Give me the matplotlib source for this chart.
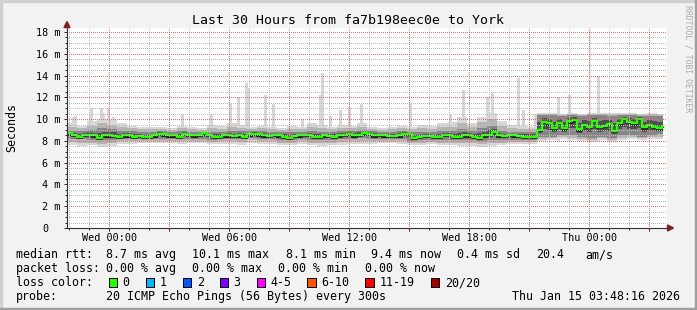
import numpy as np
import matplotlib
matplotlib.use("Agg")
import matplotlib.pyplot as plt
from matplotlib.patches import Rectangle, Polygon
from matplotlib.transforms import ScaledTranslation

W, H = 697, 310

# time axis: hours relative to Wed 00:00
t_start = -2.1
t_end = 27.7

# median rtt (ms), one value every 15 minutes from t_start
median_ms = [
    8.7, 8.55, 8.4, 8.55, 8.55, 8.5, 8.3, 8.5, 8.5, 8.45,
    8.35, 8.5, 8.5, 8.4, 8.45, 8.35, 8.35, 8.5, 8.65, 8.6,
    8.5, 8.5, 8.35, 8.65, 8.55, 8.5, 8.55, 8.7, 8.55, 8.4,
    8.4, 8.5, 8.5, 8.45, 8.5, 8.4, 8.6, 8.65, 8.6, 8.5,
    8.45, 8.55, 8.5, 8.4, 8.25, 8.45, 8.5, 8.55, 8.55, 8.4,
    8.4, 8.5, 8.45, 8.4, 8.5, 8.55, 8.65, 8.5, 8.55, 8.7,
    8.65, 8.5, 8.55, 8.5, 8.45, 8.45, 8.5, 8.65, 8.65, 8.25,
    8.35, 8.45, 8.45, 8.35, 8.35, 8.55, 8.55, 8.35, 8.4, 8.5,
    8.5, 8.4, 8.25, 8.5, 8.55, 8.8, 8.5, 8.45, 8.55, 8.5,
    8.45, 8.4, 8.4, 8.4,
    9.0, 9.75, 9.6, 9.15, 9.65, 9.15, 9.8, 9.9, 9.05, 9.45,
    9.3, 9.85, 9.3, 9.4, 9.55, 8.9, 9.6, 10.05, 9.75, 9.6,
    10.05, 9.25, 9.45, 9.3, 9.15, 9.4,
]

# smoke envelope (ms), one value every 30 minutes from t_start
smoke_hi_out = [
    9.6, 9.4, 9.8, 10.0, 9.9, 9.6, 9.4, 9.3, 9.3, 9.3,
    9.2, 9.4, 9.3, 9.2, 9.5, 9.4, 9.6, 9.5, 9.3, 9.4,
    9.3, 9.2, 9.4, 9.3, 9.6, 9.5, 9.3, 9.5, 9.4, 9.6,
    9.3, 9.2, 9.3, 9.4, 9.3, 9.5, 9.4, 9.6, 9.7, 10.2,
    9.6, 10.2, 10.6, 9.8, 9.5, 9.4, 9.3,
    10.6, 10.6, 10.5, 10.6, 10.5, 10.6, 10.6, 10.6, 10.6, 10.6, 10.5, 10.6, 10.5,
]
smoke_hi_core = [
    8.9, 8.9, 9.0, 9.2, 9.1, 8.9, 8.9, 8.8, 8.8, 8.9,
    8.8, 8.9, 8.8, 8.8, 8.8, 8.8, 8.9, 8.9, 8.9, 8.9,
    8.8, 8.8, 8.8, 8.8, 8.9, 8.8, 8.8, 8.9, 8.9, 9.0,
    8.9, 8.8, 8.8, 8.9, 8.8, 8.8, 8.8, 8.9, 8.9, 9.1,
    8.9, 9.2, 9.4, 8.9, 8.8, 8.8, 8.8,
    10.4, 10.4, 10.3, 10.4, 10.3, 10.4, 10.4, 10.3, 10.4, 10.4, 10.3, 10.3, 10.3,
]
smoke_lo_core = [
    8.2, 8.2, 8.1, 8.1, 8.1, 8.2, 8.2, 8.2, 8.2, 8.2,
    8.2, 8.2, 8.2, 8.2, 8.1, 8.2, 8.2, 8.2, 8.3, 8.2,
    8.2, 8.1, 8.1, 8.2, 8.1, 8.1, 8.1, 8.2, 8.2, 8.3,
    8.2, 8.2, 8.2, 8.2, 8.0, 8.1, 8.1, 8.1, 8.1, 8.1,
    8.1, 8.0, 8.1, 8.1, 8.1, 8.1, 8.1,
    8.4, 8.4, 8.5, 8.5, 8.4, 8.3, 8.4, 8.3, 8.5, 8.5, 8.4, 8.5, 8.6,
]
smoke_lo_out = [
    7.6, 7.5, 7.6, 7.4, 7.5, 7.7, 7.7, 7.8, 7.8, 7.8,
    7.8, 7.7, 7.8, 7.8, 7.7, 7.7, 7.7, 7.6, 7.8, 7.7,
    7.7, 7.6, 7.6, 7.7, 7.6, 7.5, 7.6, 7.6, 7.7, 7.7,
    7.7, 7.8, 7.8, 7.7, 7.6, 7.6, 7.7, 7.6, 7.6, 7.5,
    7.5, 7.4, 7.5, 7.6, 7.7, 7.7, 7.7,
    8.0, 8.1, 8.2, 8.1, 8.0, 7.9, 8.1, 7.9, 8.1, 8.2, 8.1, 8.2, 8.2,
]

# single slow pings sticking out of the smoke
spike_hours = [-1.82, -1.72, -0.97, -0.9, -0.42, -0.3, -0.07, 0.19, 3.63, 5.08,
               6.03, 6.43, 6.83, 6.95, 7.78, 8.18, 9.63, 10.53, 10.63, 11.03,
               11.53, 12.0, 12.58, 15.03, 17.03, 17.68, 18.88, 19.13, 20.43, 20.68,
               21.28, 22.43, 22.98, 24.43]
spike_ms = [10.2, 10.3, 10.5, 11.0, 11.0, 10.6, 11.0, 10.2, 10.5, 10.5,
            11.5, 12.0, 13.3, 12.9, 12.2, 11.4, 10.0, 12.2, 14.2, 10.3,
            10.8, 11.1, 11.4, 11.5, 10.5, 12.7, 12.0, 12.4, 13.8, 10.8,
            10.5, 12.0, 12.2, 14.0]
# one very faint ping near the top
faint_spike_hours = [24.03]
faint_spike_ms = [18.2]

xtick_hours = [0, 3, 6, 9, 12, 15, 18, 21, 24, 27]
xtick_labels = ['Wed 00:00', '', 'Wed 06:00', '', 'Wed 12:00', '', 'Wed 18:00', '', 'Thu 00:00', '']
ytick_ms = [0, 2, 4, 6, 8, 10, 12, 14, 16, 18]
ytick_labels = ['0', '2 m', '4 m', '6 m', '8 m', '10 m', '12 m', '14 m', '16 m', '18 m']

loss_labels = ['0', '1', '2', '3', '4-5', '6-10', '11-19', '20/20']
loss_colors = ['#26ff00', '#00b8ff', '#0059ff', '#7e00ff', '#ff00ff', '#ff5500', '#ff0000', '#a10000']

plt.rcParams['font.family'] = 'DejaVu Sans Mono'


def fx(x):
    return x / W


def fy(y):
    return 1 - y / H


fig = plt.figure(figsize=(W / 100, H / 100), dpi=100, facecolor='#f2f2f2')
ax = fig.add_axes([fx(67), fy(228), 600 / W, 200 / H])
ax.set_facecolor('white')
ax.set_xlim(-2.12, 27.88)
ax.set_ylim(0, 18.37)

# smoke
med = np.array(median_ms)
t = t_start + 0.25 * np.arange(len(med))
tt = np.append(t, t_end)
mm = np.append(med, med[-1])
hi_out = np.repeat(smoke_hi_out, 2)
hi_core = np.repeat(smoke_hi_core, 2)
lo_core = np.repeat(smoke_lo_core, 2)
lo_out = np.repeat(smoke_lo_out, 2)
ext = lambda a: np.append(a, a[-1])

ax.bar(faint_spike_hours, np.array(faint_spike_ms) - 8.0, bottom=8.0, width=0.07,
       color='#e4e4e4', linewidth=0, zorder=1)
ax.bar(spike_hours, np.array(spike_ms) - 8.0, bottom=8.0, width=0.15,
       color='#d6d6d6', linewidth=0, zorder=1)
layers = [
    (lo_out, hi_out, '#d8d8d8'),
    ((lo_out + lo_core) / 2, (hi_out + hi_core) / 2, '#b4b4b4'),
    (lo_core, hi_core, '#868686'),
    ((lo_core + med) / 2, (hi_core + med) / 2, '#4e4e4e'),
]
for lo, hi, c in layers:
    ax.fill_between(tt, ext(lo), ext(hi), step='post', color=c, linewidth=0, zorder=1.2)

ax.step(tt, mm - 0.12, where='post', color='#202020', lw=1.5, zorder=1.5)
ax.step(tt, mm, where='post', color='#26ff00', lw=1.7, zorder=1.6)

# ticks
minor_x = [h for h in range(-2, 28) if h % 3]
minor_y = [v * 0.5 for v in range(1, 37) if v % 4]
ax.set_xticks(xtick_hours)
ax.set_xticklabels(xtick_labels)
ax.set_xticks(minor_x, minor=True)
ax.set_yticks(ytick_ms)
ax.set_yticklabels(ytick_labels)
ax.set_yticks(minor_y, minor=True)
ax.grid(False)

ax.tick_params(which='major', direction='out', length=2.2, width=0.72, color='#303030',
               labelsize=7.3)
ax.tick_params(which='minor', direction='out', length=1.4, width=0.72, color='#303030')
ax.tick_params(axis='x', pad=1.4)
ax.tick_params(axis='y', pad=2.4)
zero = ax.get_yticklabels()[0]
zero.set_transform(zero.get_transform() + ScaledTranslation(-12 / 100, 0, fig.dpi_scale_trans))

for s in ['top', 'right']:
    ax.spines[s].set_visible(False)
for s in ['left', 'bottom']:
    ax.spines[s].set_color('#303030')
    ax.spines[s].set_linewidth(0.8)
    ax.spines[s].set_zorder(3)

# dotted rrdtool grid drawn over the smoke
MAJOR_GRID = '#e07070'
MINOR_GRID = '#bcbcbc'
grid_lines = []
for h in minor_x:
    grid_lines.append(ax.axvline(h, color=MINOR_GRID, lw=0.72, zorder=2.4))
for v in minor_y:
    grid_lines.append(ax.axhline(v, color=MINOR_GRID, lw=0.72, zorder=2.4))
for h in xtick_hours:
    grid_lines.append(ax.axvline(h, color=MAJOR_GRID, lw=0.72, zorder=2.5))
for v in ytick_ms[1:]:
    grid_lines.append(ax.axhline(v, color=MAJOR_GRID, lw=0.72, zorder=2.5))


def set_dash(off):
    for ln in grid_lines:
        ln.set_linestyle((off, (1, 1)))


# pick the dash phase that puts the dots on whole pixels
best_off, best_std = 0.5, -1.0
for off in (0.5, 0.0, 0.25, 0.75):
    set_dash(off)
    fig.canvas.draw()
    buf = np.asarray(fig.canvas.buffer_rgba())[:, :, 0].astype(float)
    strip = buf[33:50, 127:132].min(axis=1)
    if strip.std() > best_std:
        best_off, best_std = off, strip.std()
set_dash(best_off)

# axis arrows
arrow_c = '#801f1f'
fig.patches.append(Polygon([(fx(64), fy(27.5)), (fx(70), fy(27.5)), (fx(67), fy(21.5))],
                           closed=True, color=arrow_c, transform=fig.transFigure))
fig.patches.append(Polygon([(fx(667.5), fy(225)), (fx(667.5), fy(231)), (fx(673.5), fy(228))],
                           closed=True, color=arrow_c, transform=fig.transFigure))

# frame shading
fig.patches.append(Rectangle((0, fy(2)), 1, 2 / H, color='#d0d0d0', transform=fig.transFigure))
fig.patches.append(Rectangle((0, 0), fx(2), 1, color='#d0d0d0', transform=fig.transFigure))
fig.patches.append(Rectangle((0, 0), 1, 2 / H, color='#9e9e9e', transform=fig.transFigure))
fig.patches.append(Rectangle((fx(695), 0), fx(2), 1, color='#9e9e9e', transform=fig.transFigure))

# texts
fig.text(fx(348), fy(24), 'Last 30 Hours from fa7b198eec0e to York', ha='center', va='baseline',
         fontsize=9.5)
fig.text(fx(11.5), fy(128), 'Seconds', rotation=90, ha='center', va='center', fontsize=8.37)
fig.text(fx(688), fy(5), 'RRDTOOL / TOBI OETIKER', rotation=270, ha='center', va='top',
         fontsize=5.8, color='#a8a8a8')

fs = 8.37
rows = [
    (258.3, [(15.5, 'median rtt:'), (106.5, '8.7 ms avg'), (192.0, '10.1 ms max'),
             (285.7, '8.1 ms min'), (371.0, '9.4 ms now'), (457.3, '0.4 ms sd'),
             (536.3, '20.4'), (585.0, 'am/s')]),
    (272.3, [(15.5, 'packet loss:'), (106.3, '0.00 % avg'), (192.3, '0.00 % max'),
             (278.0, '0.00 % min'), (364.7, '0.00 % now')]),
    (286.0, [(15.5, 'loss color:')]),
    (300.0, [(15.5, 'probe:'), (106.5, '20 ICMP Echo Pings (56 Bytes) every 300s'),
             (512.5, 'Thu Jan 15 03:48:16 2026')]),
]
for yb, items in rows:
    for xl, s in items:
        fig.text(fx(xl), fy(yb), s, ha='left', va='baseline', fontsize=fs)

swatch_x = [108.7, 145.7, 182.7, 219.7, 256.7, 307.0, 365.3, 430.7]
for xs, lab, c in zip(swatch_x, loss_labels, loss_colors):
    fig.patches.append(Rectangle((fx(xs), fy(286.5)), 8.5 / W, 8.5 / H, facecolor=c,
                                 edgecolor='black', linewidth=0.72, transform=fig.transFigure))
    fig.text(fx(xs + 14), fy(286.0), lab, ha='left', va='baseline', fontsize=fs)

fig.savefig('out.png', dpi=100, facecolor=fig.get_facecolor())
